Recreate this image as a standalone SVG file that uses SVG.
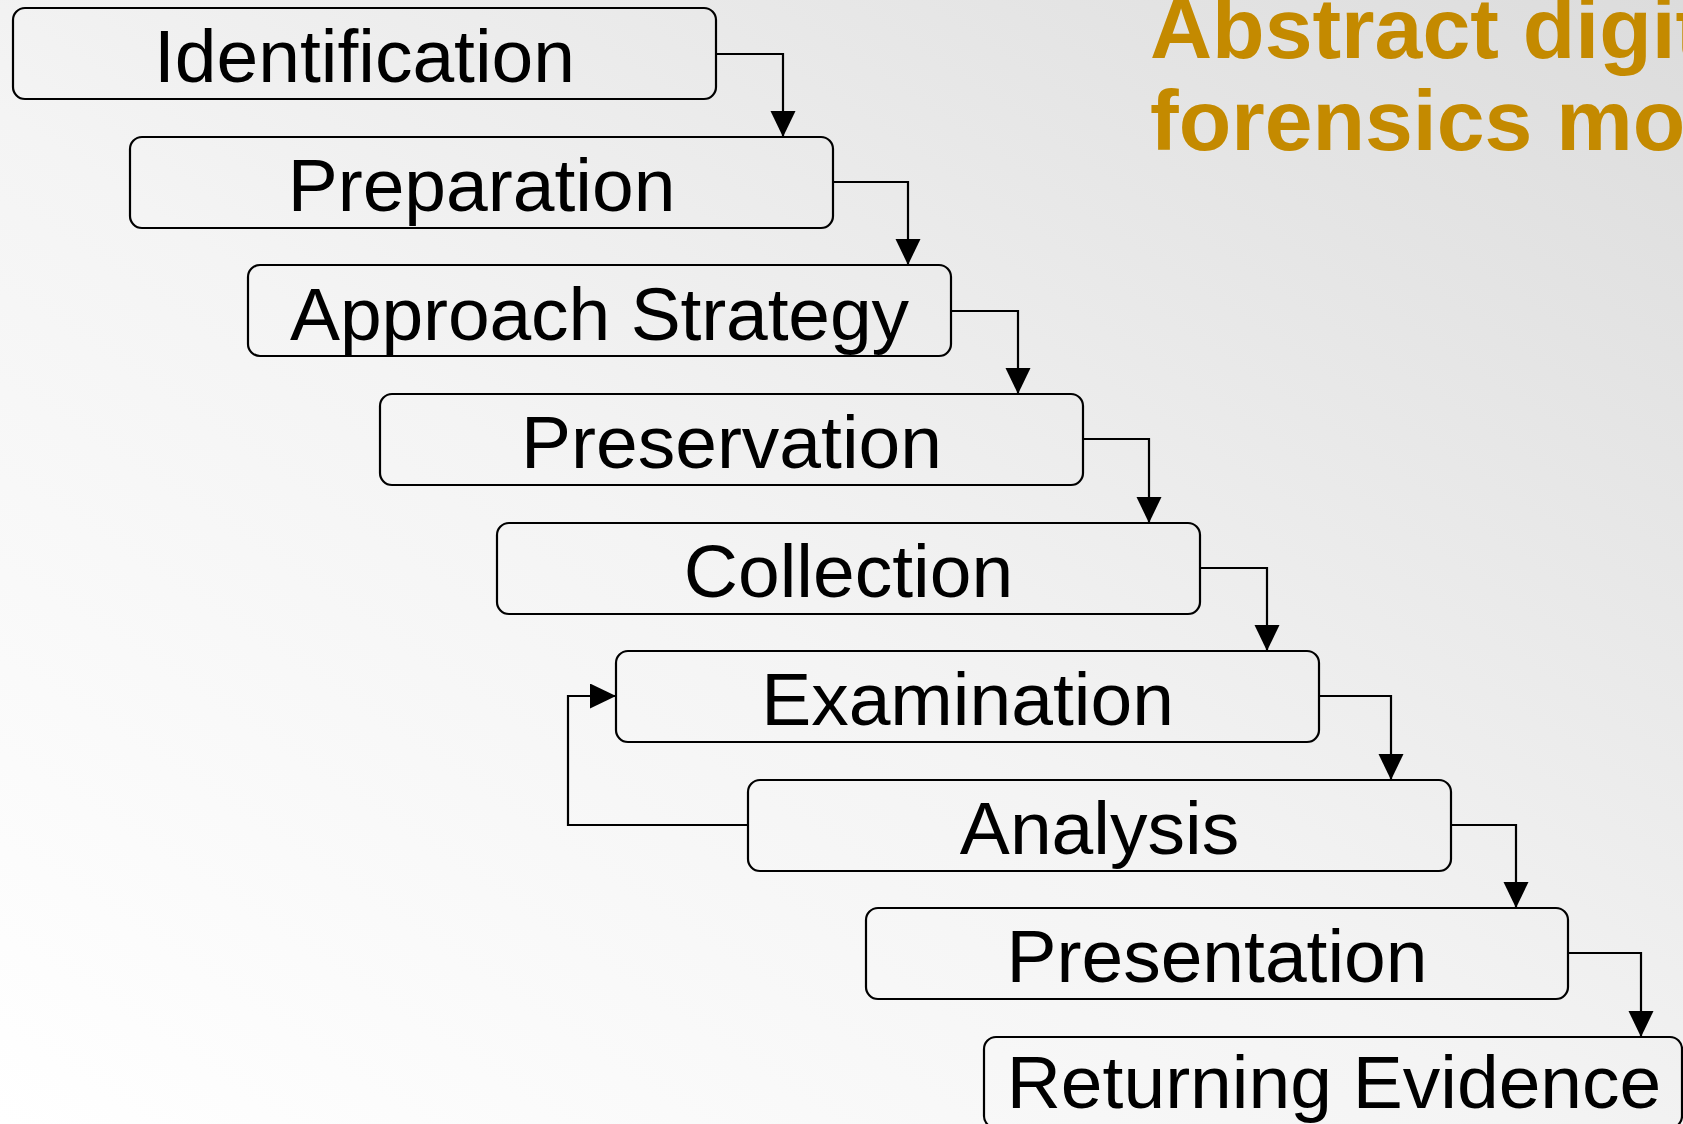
<svg xmlns="http://www.w3.org/2000/svg" width="1683" height="1124" viewBox="0 0 1683 1124">
<defs>
<linearGradient id="bg" x1="0" y1="1" x2="1" y2="0">
<stop offset="0" stop-color="#ffffff"/>
<stop offset="0.45" stop-color="#f4f4f4"/>
<stop offset="1" stop-color="#dcdcdc"/>
</linearGradient>
<marker id="arr" markerUnits="userSpaceOnUse" markerWidth="26" markerHeight="26" refX="26" refY="12.5" orient="auto">
<path d="M0,0 L26,12.5 L0,25 Z" fill="#000"/>
</marker>
<style>
.box{fill:none;stroke:#000;stroke-width:2.2}
.lbl{font-family:"Liberation Sans",Arial,sans-serif;font-size:75px;fill:#000;text-anchor:middle}
.con{fill:none;stroke:#000;stroke-width:2.2;marker-end:url(#arr)}
.ttl{font-family:"Liberation Sans",Arial,sans-serif;font-size:86px;font-weight:bold;fill:#c48a00}
</style>
</defs>
<rect x="0" y="0" width="1683" height="1124" fill="url(#bg)"/>
<g id="title">
<text class="ttl" x="1150" y="57.5">Abstract digit</text>
<text class="ttl" x="1150" y="149.5">forensics mo</text>
</g>
<g id="connectors">
<path class="con" d="M716,54 H783 V137"/>
<path class="con" d="M833,182 H908 V265"/>
<path class="con" d="M951,311 H1018 V394"/>
<path class="con" d="M1083,439 H1149 V523"/>
<path class="con" d="M1200,568 H1267 V651"/>
<path class="con" d="M1319,696 H1391 V780"/>
<path class="con" d="M1451,825 H1516 V908"/>
<path class="con" d="M1568,953 H1641 V1037"/>
<path class="con" d="M748,825 H568 V696 H616"/>
</g>
<g id="n1"><rect class="box" x="13" y="8" width="703" height="91" rx="12"/><text class="lbl" x="364.5" y="82.3">Identification</text></g>
<g id="n2"><rect class="box" x="130" y="137" width="703" height="91" rx="12"/><text class="lbl" x="481.5" y="211">Preparation</text></g>
<g id="n3"><rect class="box" x="248" y="265" width="703" height="91" rx="12"/><text class="lbl" x="599.5" y="339.5" textLength="619" lengthAdjust="spacing">Approach Strategy</text></g>
<g id="n4"><rect class="box" x="380" y="394" width="703" height="91" rx="12"/><text class="lbl" x="731.5" y="468.2">Preservation</text></g>
<g id="n5"><rect class="box" x="497" y="523" width="703" height="91" rx="12"/><text class="lbl" x="848.5" y="596.8">Collection</text></g>
<g id="n6"><rect class="box" x="616" y="651" width="703" height="91" rx="12"/><text class="lbl" x="967.5" y="724.8">Examination</text></g>
<g id="n7"><rect class="box" x="748" y="780" width="703" height="91" rx="12"/><text class="lbl" x="1099.5" y="854">Analysis</text></g>
<g id="n8"><rect class="box" x="866" y="908" width="702" height="91" rx="12"/><text class="lbl" x="1217" y="982.2">Presentation</text></g>
<g id="n9"><rect class="box" x="984" y="1037" width="698" height="91" rx="12"/><text class="lbl" x="1334" y="1108">Returning Evidence</text></g>
</svg>
